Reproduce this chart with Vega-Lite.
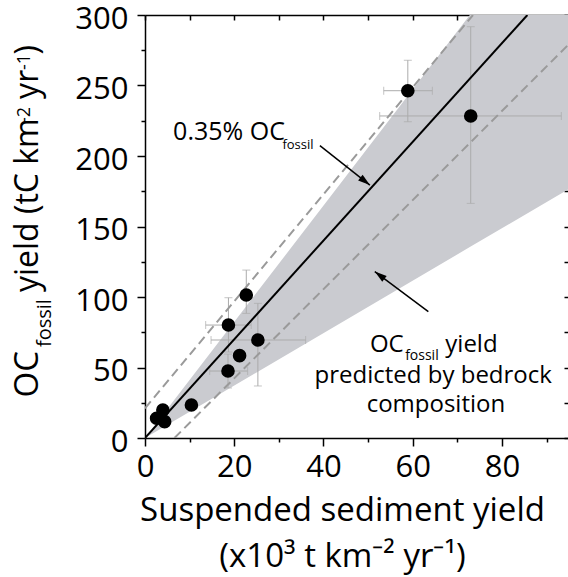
{
  "$schema": "https://vega.github.io/schema/vega-lite/v6.json",
  "width": 423,
  "height": 423,
  "autosize": {"type": "none"},
  "padding": {"left": 145, "top": 15, "right": 0, "bottom": 139},
  "config": {
    "font": "Open Sans",
    "view": {"stroke": null},
    "axis": {"grid": false, "domainColor": "black", "tickColor": "black", "labelColor": "black", "titleColor": "black", "domainWidth": 1.5, "tickWidth": 1.5, "labelFont": "Open Sans", "titleFont": "Open Sans", "titleFontWeight": "normal"}
  },
  "datasets": {
    "wedge": [{"x": 0, "lo": 0, "hi": 0}, {"x": 72.8, "lo": 135.4, "hi": 300}, {"x": 94.8, "lo": 176.3, "hi": 300}],
    "pts": [
      {"x": 2.6, "y": 14.0}, {"x": 4.0, "y": 19.9}, {"x": 4.4, "y": 11.6}, {"x": 10.4, "y": 23.4},
      {"x": 18.6, "y": 47.5}, {"x": 21.2, "y": 58.4}, {"x": 25.3, "y": 69.5}, {"x": 18.7, "y": 80.1},
      {"x": 22.7, "y": 101.4}, {"x": 58.9, "y": 246.3}, {"x": 73.0, "y": 228.4}
    ],
    "hbars": [
      {"y": 246.3, "xlo": 53.5, "xhi": 64.4}, {"y": 228.4, "xlo": 52.6, "xhi": 93.3},
      {"y": 69.5, "xlo": 14.8, "xhi": 36.0}, {"y": 80.1, "xlo": 13.6, "xhi": 23.8},
      {"y": 47.5, "xlo": 14.5, "xhi": 23.0}
    ],
    "vbars": [
      {"x": 58.9, "ylo": 224.3, "yhi": 267.9}, {"x": 73.0, "ylo": 166.4, "yhi": 291.7},
      {"x": 22.7, "ylo": 88.4, "yhi": 119.1}, {"x": 18.7, "ylo": 61.0, "yhi": 99.5},
      {"x": 25.3, "ylo": 36.9, "yhi": 95.5}, {"x": 18.6, "ylo": 35.5, "yhi": 59.5}
    ],
    "lines": [
      {"s": "fit", "x": 0, "y": 0}, {"s": "fit", "x": 85.7, "y": 300},
      {"s": "upper", "x": 0, "y": 21}, {"s": "upper", "x": 73.5, "y": 300},
      {"s": "lower", "x": 6.6, "y": 0}, {"s": "lower", "x": 94.8, "y": 278.7}
    ],
    "arrows": [
      {"id": 1, "x": 39.2, "y": 207.3, "xe": 50.4, "ye": 179.4},
      {"id": 2, "x": 63.5, "y": 89.6, "xe": 51.5, "ye": 118.0}
    ]
  },
  "layer": [
    {
      "data": {"name": "wedge"},
      "mark": {"type": "area", "color": "#cacbd0", "opacity": 1, "clip": true},
      "encoding": {
        "x": {"field": "x", "type": "quantitative", "scale": {"domain": [0, 94.8], "nice": false, "zero": false},
          "axis": {"orient": "bottom", "values": [0, 10, 20, 30, 40, 50, 60, 70, 80, 90],
            "labelExpr": "datum.value % 20 === 0 ? datum.label : ''",
            "tickSize": {"condition": {"test": "datum.value % 20 === 0", "value": 8}, "value": 4},
            "labelFontSize": 31, "labelPadding": 6, "labelFlush": false, "labelOverlap": false,
            "title": ["Suspended sediment yield", "(x10³ t km⁻² yr⁻¹)"],
            "titleFontSize": 33, "titleLineHeight": 46, "titlePadding": 12, "titleX": 197}},
        "y": {"field": "lo", "type": "quantitative", "scale": {"domain": [0, 300], "nice": false, "zero": false},
          "axis": {"orient": "left", "values": [0, 25, 50, 75, 100, 125, 150, 175, 200, 225, 250, 275, 300],
            "labelExpr": "datum.value % 50 === 0 ? datum.label : ''",
            "tickSize": {"condition": {"test": "datum.value % 50 === 0", "value": 8}, "value": 4},
            "labelFontSize": 31, "labelPadding": 9, "labelOffset": 4, "labelFlush": false, "labelOverlap": false,
            "title": null}},
        "y2": {"field": "hi"}
      }
    },
    {
      "data": {"name": "hbars"},
      "mark": {"type": "errorbar", "ticks": {"size": 8, "thickness": 1, "color": "#ababab"}, "rule": {"strokeWidth": 1, "color": "#ababab"}},
      "encoding": {
        "x": {"field": "xlo", "type": "quantitative", "axis": null},
        "x2": {"field": "xhi"},
        "y": {"field": "y", "type": "quantitative", "axis": null}
      }
    },
    {
      "data": {"name": "vbars"},
      "mark": {"type": "errorbar", "ticks": {"size": 8, "thickness": 1, "color": "#ababab"}, "rule": {"strokeWidth": 1, "color": "#ababab"}},
      "encoding": {
        "y": {"field": "ylo", "type": "quantitative", "axis": null},
        "y2": {"field": "yhi"},
        "x": {"field": "x", "type": "quantitative", "axis": null}
      }
    },
    {
      "data": {"name": "lines"},
      "transform": [{"filter": "datum.s !== 'fit'"}],
      "mark": {"type": "line", "color": "#9a9a9a", "strokeWidth": 2, "strokeDash": [9, 5], "clip": true},
      "encoding": {
        "x": {"field": "x", "type": "quantitative", "axis": null},
        "y": {"field": "y", "type": "quantitative", "axis": null},
        "detail": {"field": "s"}
      }
    },
    {
      "data": {"name": "lines"},
      "transform": [{"filter": "datum.s === 'fit'"}],
      "mark": {"type": "line", "color": "black", "strokeWidth": 2, "clip": true},
      "encoding": {
        "x": {"field": "x", "type": "quantitative", "axis": null},
        "y": {"field": "y", "type": "quantitative", "axis": null}
      }
    },
    {
      "data": {"name": "pts"},
      "mark": {"type": "circle", "color": "black", "size": 185, "opacity": 1},
      "encoding": {
        "x": {"field": "x", "type": "quantitative", "axis": null},
        "y": {"field": "y", "type": "quantitative", "axis": null}
      }
    },
    {
      "data": {"name": "arrows"},
      "mark": {"type": "rule", "color": "black", "strokeWidth": 1.5},
      "encoding": {
        "x": {"field": "x", "type": "quantitative", "axis": null},
        "y": {"field": "y", "type": "quantitative", "axis": null},
        "x2": {"field": "xe"},
        "y2": {"field": "ye"}
      }
    },
    {
      "data": {"name": "arrows"},
      "transform": [{"filter": "datum.id === 1"}],
      "mark": {"type": "point", "shape": "M0,0L0.55,1.8L-0.55,1.8Z", "filled": true, "color": "black", "opacity": 1, "size": 180, "angle": 128},
      "encoding": {
        "x": {"field": "xe", "type": "quantitative", "axis": null},
        "y": {"field": "ye", "type": "quantitative", "axis": null}
      }
    },
    {
      "data": {"name": "arrows"},
      "transform": [{"filter": "datum.id === 2"}],
      "mark": {"type": "point", "shape": "M0,0L0.55,1.8L-0.55,1.8Z", "filled": true, "color": "black", "opacity": 1, "size": 180, "angle": 307},
      "encoding": {
        "x": {"field": "xe", "type": "quantitative", "axis": null},
        "y": {"field": "ye", "type": "quantitative", "axis": null}
      }
    },
    {
      "data": {"values": [{"t": "0.35% OC"}]},
      "mark": {"type": "text", "fontSize": 25, "align": "left", "baseline": "alphabetic", "color": "black"},
      "encoding": {"text": {"field": "t"}, "x": {"datum": 6.3, "type": "quantitative", "axis": null}, "y": {"datum": 211.3, "type": "quantitative", "axis": null}}
    },
    {
      "data": {"values": [{"t": "fossil"}]},
      "mark": {"type": "text", "fontSize": 13, "align": "left", "baseline": "alphabetic", "color": "black"},
      "encoding": {"text": {"field": "t"}, "x": {"datum": 30.8, "type": "quantitative", "axis": null}, "y": {"datum": 205, "type": "quantitative", "axis": null}}
    },
    {
      "data": {"values": [{"t": "OC"}]},
      "mark": {"type": "text", "fontSize": 24, "align": "left", "baseline": "alphabetic", "color": "black"},
      "encoding": {"text": {"field": "t"}, "x": {"datum": 50.4, "type": "quantitative", "axis": null}, "y": {"datum": 61.2, "type": "quantitative", "axis": null}}
    },
    {
      "data": {"values": [{"t": "fossil"}]},
      "mark": {"type": "text", "fontSize": 14, "align": "left", "baseline": "alphabetic", "color": "black"},
      "encoding": {"text": {"field": "t"}, "x": {"datum": 58.3, "type": "quantitative", "axis": null}, "y": {"datum": 55.3, "type": "quantitative", "axis": null}}
    },
    {
      "data": {"values": [{"t": "yield"}]},
      "mark": {"type": "text", "fontSize": 24, "align": "left", "baseline": "alphabetic", "color": "black"},
      "encoding": {"text": {"field": "t"}, "x": {"datum": 67.3, "type": "quantitative", "axis": null}, "y": {"datum": 61.2, "type": "quantitative", "axis": null}}
    },
    {
      "data": {"values": [{"t": "predicted by bedrock"}]},
      "mark": {"type": "text", "fontSize": 24, "align": "center", "baseline": "alphabetic", "color": "black"},
      "encoding": {"text": {"field": "t"}, "x": {"datum": 64.6, "type": "quantitative", "axis": null}, "y": {"datum": 38.8, "type": "quantitative", "axis": null}}
    },
    {
      "data": {"values": [{"t": "composition"}]},
      "mark": {"type": "text", "fontSize": 24, "align": "center", "baseline": "alphabetic", "color": "black"},
      "encoding": {"text": {"field": "t"}, "x": {"datum": 65.2, "type": "quantitative", "axis": null}, "y": {"datum": 18.7, "type": "quantitative", "axis": null}}
    },
    {
      "data": {"values": [{"t": "OC"}]},
      "mark": {"type": "text", "fontSize": 33, "angle": 270, "align": "left", "baseline": "alphabetic", "color": "black"},
      "encoding": {"text": {"field": "t"}, "x": {"datum": -24.0, "type": "quantitative", "axis": null}, "y": {"datum": 28.8, "type": "quantitative", "axis": null}}
    },
    {
      "data": {"values": [{"t": "fossil"}]},
      "mark": {"type": "text", "fontSize": 20, "angle": 270, "align": "left", "baseline": "alphabetic", "color": "black"},
      "encoding": {"text": {"field": "t"}, "x": {"datum": -21.0, "type": "quantitative", "axis": null}, "y": {"datum": 64.5, "type": "quantitative", "axis": null}}
    },
    {
      "data": {"values": [{"t": "yield (tC km"}]},
      "mark": {"type": "text", "fontSize": 32, "angle": 270, "align": "left", "baseline": "alphabetic", "color": "black"},
      "encoding": {"text": {"field": "t"}, "x": {"datum": -24.0, "type": "quantitative", "axis": null}, "y": {"datum": 103.5, "type": "quantitative", "axis": null}}
    },
    {
      "data": {"values": [{"t": "-2"}]},
      "mark": {"type": "text", "fontSize": 18, "angle": 270, "align": "left", "baseline": "alphabetic", "color": "black"},
      "encoding": {"text": {"field": "t"}, "x": {"datum": -25.8, "type": "quantitative", "axis": null}, "y": {"datum": 223.4, "type": "quantitative", "axis": null}}
    },
    {
      "data": {"values": [{"t": "yr"}]},
      "mark": {"type": "text", "fontSize": 32, "angle": 270, "align": "left", "baseline": "alphabetic", "color": "black"},
      "encoding": {"text": {"field": "t"}, "x": {"datum": -24.0, "type": "quantitative", "axis": null}, "y": {"datum": 240.5, "type": "quantitative", "axis": null}}
    },
    {
      "data": {"values": [{"t": "-1"}]},
      "mark": {"type": "text", "fontSize": 18, "angle": 270, "align": "left", "baseline": "alphabetic", "color": "black"},
      "encoding": {"text": {"field": "t"}, "x": {"datum": -25.8, "type": "quantitative", "axis": null}, "y": {"datum": 261.0, "type": "quantitative", "axis": null}}
    },
    {
      "data": {"values": [{"t": ")"}]},
      "mark": {"type": "text", "fontSize": 32, "angle": 270, "align": "left", "baseline": "alphabetic", "color": "black"},
      "encoding": {"text": {"field": "t"}, "x": {"datum": -24.0, "type": "quantitative", "axis": null}, "y": {"datum": 272.0, "type": "quantitative", "axis": null}}
    },
    {
      "data": {"name": "pts"},
      "mark": {"type": "point", "opacity": 0},
      "encoding": {
        "x": {"field": "x", "type": "quantitative",
          "axis": {"orient": "top", "values": [0, 10, 20, 30, 40, 50, 60, 70, 80, 90], "labels": false, "tickSize": -5, "domain": true, "title": null}},
        "y": {"field": "y", "type": "quantitative",
          "axis": {"orient": "right", "values": [0, 25, 50, 75, 100, 125, 150, 175, 200, 225, 250, 275, 300], "labels": false, "tickSize": -4, "domain": false, "title": null}}
      }
    }
  ],
  "resolve": {"axis": {"x": "independent", "y": "independent"}}
}
